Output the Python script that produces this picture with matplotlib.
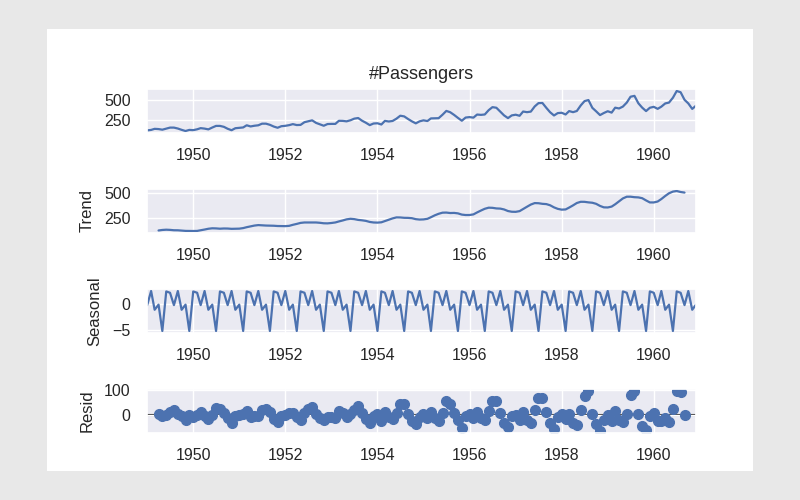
import pandas as pd
import matplotlib
matplotlib.use("Agg")
import matplotlib.pyplot as plt
import matplotlib.dates as mdates
from matplotlib.patches import Rectangle
import seaborn as sns

# monthly airline passengers, Jan 1949 .. Dec 1960
passengers = [112, 118, 132, 129, 121, 135, 148, 148, 136, 119, 104, 118,
              115, 126, 141, 135, 125, 149, 170, 170, 158, 133, 114, 140,
              145, 150, 178, 163, 172, 178, 199, 199, 184, 162, 146, 166,
              171, 180, 193, 181, 183, 218, 230, 242, 209, 191, 172, 194,
              196, 196, 236, 235, 229, 243, 264, 272, 237, 211, 180, 201,
              204, 188, 235, 227, 234, 264, 302, 293, 259, 229, 203, 229,
              242, 233, 267, 269, 270, 315, 364, 347, 312, 274, 237, 278,
              284, 277, 317, 313, 318, 374, 413, 405, 355, 306, 271, 306,
              315, 301, 356, 348, 355, 422, 465, 467, 404, 347, 305, 336,
              340, 318, 362, 348, 363, 435, 491, 505, 404, 359, 310, 337,
              360, 342, 406, 396, 420, 472, 548, 559, 463, 407, 362, 405,
              417, 391, 419, 461, 472, 535, 622, 606, 508, 461, 390, 432]

# trend and resid exist from Apr 1949 to Sep 1960
trend = [127.9, 133.0, 135.6, 133.8, 130.2, 129.7, 126.8, 123.7, 122.7, 122.6, 123.5, 129.9,
         137.3, 145.1, 149.7, 148.6, 145.6, 147.8, 147.2, 144.3, 145.4, 146.2, 151.7, 160.8,
         169.3, 177.0, 181.8, 179.5, 177.2, 176.3, 175.3, 172.6, 171.7, 171.3, 174.3, 184.6,
         193.7, 203.8, 208.0, 207.7, 206.4, 208.0, 204.9, 200.0, 199.1, 202.9, 208.3, 218.4,
         228.4, 239.3, 245.1, 241.6, 233.8, 229.7, 224.1, 213.3, 208.0, 206.6, 209.8, 221.9,
         236.3, 249.0, 259.1, 258.3, 254.8, 254.1, 251.0, 241.2, 237.4, 238.8, 244.7, 260.7,
         280.0, 295.0, 306.3, 307.3, 302.7, 303.9, 299.4, 287.0, 282.8, 282.9, 289.1, 308.7,
         328.0, 345.3, 356.4, 354.9, 348.9, 347.1, 338.7, 322.7, 315.7, 314.7, 321.8, 343.3,
         366.0, 387.7, 402.4, 401.1, 395.0, 392.3, 380.6, 359.5, 344.5, 336.6, 338.8, 357.4,
         379.6, 403.2, 415.4, 415.0, 409.6, 405.8, 395.1, 373.9, 359.7, 358.5, 367.3, 390.4,
         420.6, 449.0, 466.3, 466.5, 461.5, 459.4, 451.6, 429.1, 409.1, 408.9, 418.2, 442.8,
         473.8, 500.9, 517.6, 523.6, 513.5, 507.7]

resid = [1.3, -6.9, -2.9, 12.2, 18.1, 3.9, -6.7, -19.5, 0.4, -9.9, 0.5, 11.4,
         -4.7, -19.0, -0.5, 26.5, 22.1, 8.2, -13.9, -32.7, -4.3, -1.0, 3.4, 14.9,
         -8.3, -4.7, -6.2, 20.6, 22.0, 12.8, -15.6, -28.6, -5.4, -2.7, 6.8, 8.6,
         -7.6, -23.1, 8.0, 22.6, 33.2, 2.1, -13.7, -22.9, -7.4, -8.9, -12.0, 15.2,
         7.7, -10.1, 3.0, 20.1, 36.2, 7.6, -15.5, -32.2, -6.8, 2.5, -24.1, 11.1,
         -9.0, -17.4, 6.0, 43.9, 43.3, 2.6, -24.0, -37.9, -10.8, 4.3, -11.5, 11.4,
         -13.3, -27.0, 9.0, 54.3, 45.4, 8.3, -20.3, -52.3, -6.8, 1.4, -14.5, 9.4,
         -14.8, -22.2, 15.3, 56.1, 56.4, 5.5, -31.6, -51.5, -4.6, -2.0, -22.8, 13.0,
         -20.4, -31.6, 19.8, 69.0, 69.7, 9.7, -33.3, -56.9, -7.4, 3.6, -15.7, 2.3,
         -33.6, -39.9, 17.2, 77.1, 95.6, 3.3, -38.4, -65.9, -22.4, -0.9, -24.2, 15.8,
         -19.5, -31.3, 3.7, 81.8, 95.1, 4.7, -44.4, -62.0, -6.4, 6.1, -26.9, -26.2,
         -11.7, -28.7, 22.5, 96.1, 90.5, 0.6]

# seasonal component (7 month cycle), Jan 1949 .. Dec 1960
seasonal = [-0.27, 2.37, -1.14, -0.18, -5.11, 2.29, 2.04,
            -0.27, 2.37, -1.14, -0.18, -5.11, 2.29, 2.04,
            -0.27, 2.37, -1.14, -0.18, -5.11, 2.29, 2.04,
            -0.27, 2.37, -1.14, -0.18, -5.11, 2.29, 2.04,
            -0.27, 2.37, -1.14, -0.18, -5.11, 2.29, 2.04,
            -0.27, 2.37, -1.14, -0.18, -5.11, 2.29, 2.04,
            -0.27, 2.37, -1.14, -0.18, -5.11, 2.29, 2.04,
            -0.27, 2.37, -1.14, -0.18, -5.11, 2.29, 2.04,
            -0.27, 2.37, -1.14, -0.18, -5.11, 2.29, 2.04,
            -0.27, 2.37, -1.14, -0.18, -5.11, 2.29, 2.04,
            -0.27, 2.37, -1.14, -0.18, -5.11, 2.29, 2.04,
            -0.27, 2.37, -1.14, -0.18, -5.11, 2.29, 2.04,
            -0.27, 2.37, -1.14, -0.18, -5.11, 2.29, 2.04,
            -0.27, 2.37, -1.14, -0.18, -5.11, 2.29, 2.04,
            -0.27, 2.37, -1.14, -0.18, -5.11, 2.29, 2.04,
            -0.27, 2.37, -1.14, -0.18, -5.11, 2.29, 2.04,
            -0.27, 2.37, -1.14, -0.18, -5.11, 2.29, 2.04,
            -0.27, 2.37, -1.14, -0.18, -5.11, 2.29, 2.04,
            -0.27, 2.37, -1.14, -0.18, -5.11, 2.29, 2.04,
            -0.27, 2.37, -1.14, -0.18, -5.11, 2.29, 2.04,
            -0.27, 2.37, -1.14, -0.18]

dates = pd.date_range("1949-01-01", periods=len(passengers), freq="MS")
mid_dates = dates[3:3 + len(trend)]

sns.set_theme(style="darkgrid")
plt.rcParams["font.family"] = ["Liberation Sans", "DejaVu Sans"]

fig = plt.figure(figsize=(8, 5), dpi=100, facecolor="#e8e8e8")
# white card the chart sits on
fig.patches.append(Rectangle((0.0584, 0.058), 0.8826, 0.8846, transform=fig.transFigure,
                             facecolor="white", edgecolor="none", zorder=-5))

blue = "#4C72B0"
left, width, height = 0.184, 0.686, 0.088
bottoms = [0.734, 0.534, 0.334, 0.134]
axes = [fig.add_axes([left, b, width, height]) for b in bottoms]

axes[0].plot(dates, passengers, color=blue, lw=1.6)
axes[0].set_title("#Passengers", fontsize=13, pad=7)
axes[0].set_yticks([250, 500])

axes[1].plot(mid_dates, trend, color=blue, lw=1.6)
axes[1].set_ylabel("Trend", fontsize=12, labelpad=7)
axes[1].set_yticks([250, 500])

axes[2].plot(dates, seasonal, color=blue, lw=1.6)
axes[2].set_ylabel("Seasonal", fontsize=12, labelpad=7)
axes[2].set_yticks([-5, 0])

axes[3].plot(mid_dates, resid, marker="o", linestyle="none", color=blue, ms=7)
axes[3].axhline(0, color="#333333", lw=1.5, zorder=-3)
axes[3].set_ylabel("Resid", fontsize=12, labelpad=7)
axes[3].set_yticks([0, 100])

for ax in axes:
    ax.set_xlim(dates[0], dates[-1])
    ax.xaxis.set_major_locator(mdates.YearLocator(2))
    ax.xaxis.set_major_formatter(mdates.DateFormatter("%Y"))
    ax.tick_params(axis="x", labelsize=11.5, pad=5)
    ax.tick_params(axis="y", labelsize=11.5, pad=6)

fig.savefig("out.png", facecolor=fig.get_facecolor())
